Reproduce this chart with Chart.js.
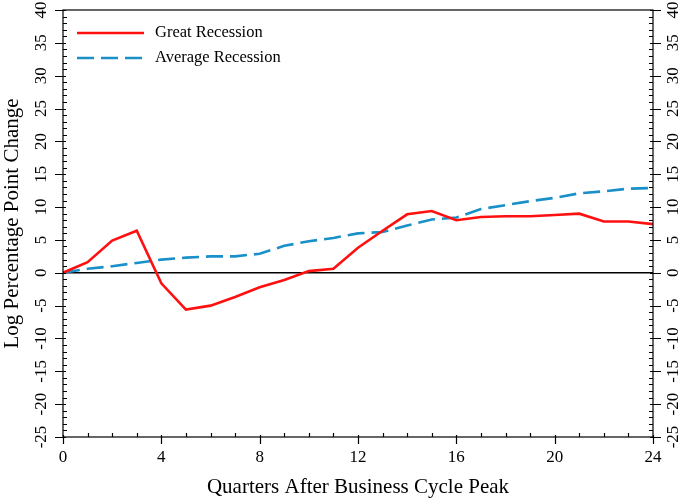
<!DOCTYPE html>
<html>
<head>
<meta charset="utf-8">
<script src="https://cdn.jsdelivr.net/npm/chart.js@4"></script>
<style>
  html, body { margin: 0; padding: 0; background: #fff; }
  #wrap { width: 685px; height: 499px; }
</style>
</head>
<body>
<div id="wrap"><canvas id="c" width="685" height="499"></canvas></div>
<script>
const quarters = [0,1,2,3,4,5,6,7,8,9,10,11,12,13,14,15,16,17,18,19,20,21,22,23,24];
const greatRecession = [0,1.6,4.9,6.4,-1.6,-5.6,-5.0,-3.7,-2.2,-1.1,0.25,0.6,3.8,6.4,8.9,9.4,8.0,8.5,8.6,8.6,8.8,9.0,7.8,7.8,7.4];
const averageRecession = [0,0.6,1.0,1.5,2.0,2.3,2.5,2.5,2.9,4.1,4.8,5.3,6.0,6.2,7.2,8.1,8.4,9.7,10.3,10.9,11.4,12.1,12.4,12.8,12.9];
const xTickLabels = ['0','4','8','12','16','20','24'];
const yTickLabels = ['-25','-20','-15','-10','-5','0','5','10','15','20','25','30','35','40'];
const seriesNames = ['Great Recession','Average Recession'];
const xTitle = 'Quarters After Business Cycle Peak';
const yTitle = 'Log Percentage Point Change';

const SERIF = '"Liberation Serif", "Times New Roman", serif';

const axesPlugin = {
  id: 'axesPlugin',
  beforeDatasetsDraw(chart) {
    const ctx = chart.ctx, a = chart.chartArea;
    const ys = chart.scales.y;
    ctx.save();
    ctx.strokeStyle = '#000';
    ctx.lineWidth = 1.6;
    ctx.beginPath();
    const y0 = ys.getPixelForValue(0);
    ctx.moveTo(a.left, y0); ctx.lineTo(a.right, y0);
    ctx.stroke();
    ctx.restore();
  },
  afterDatasetsDraw(chart) {
    const ctx = chart.ctx, a = chart.chartArea;
    const xs = chart.scales.x, ys = chart.scales.y;
    ctx.save();
    ctx.strokeStyle = '#000';
    ctx.lineWidth = 1.2;
    ctx.strokeRect(a.left, a.top, a.right - a.left, a.bottom - a.top);
    ctx.beginPath();
    for (let q = 0; q <= 24; q++) {
      const px = Math.round(xs.getPixelForValue(q)) + 0.5;
      if (q % 4 === 0) { ctx.moveTo(px, a.bottom + 7); ctx.lineTo(px, a.bottom - 2); }
      else { ctx.moveTo(px, a.bottom); ctx.lineTo(px, a.bottom - 4); }
    }
    for (let v = -25; v <= 40; v++) {
      const py = Math.round(ys.getPixelForValue(v)) + 0.5;
      if (v % 5 === 0) {
        ctx.moveTo(a.left - 8, py); ctx.lineTo(a.left + 3, py);
        ctx.moveTo(a.right + 8, py); ctx.lineTo(a.right - 3, py);
      } else {
        ctx.moveTo(a.left, py); ctx.lineTo(a.left + 4, py);
        ctx.moveTo(a.right, py); ctx.lineTo(a.right - 4, py);
      }
    }
    ctx.stroke();

    ctx.fillStyle = '#000';
    ctx.font = '17px ' + SERIF;
    ctx.textAlign = 'center';
    ctx.textBaseline = 'middle';
    xTickLabels.forEach(l => {
      ctx.fillText(l, xs.getPixelForValue(Number(l)), a.bottom + 21);
    });
    yTickLabels.forEach(l => {
      const py = ys.getPixelForValue(Number(l));
      ctx.save(); ctx.translate(42, py); ctx.rotate(-Math.PI/2); ctx.fillText(l, 0, 0); ctx.restore();
      ctx.save(); ctx.translate(674, py); ctx.rotate(-Math.PI/2); ctx.fillText(l, 0, 0); ctx.restore();
    });
    ctx.font = '21px ' + SERIF;
    ctx.fillText(xTitle, (a.left + a.right) / 2, 487);
    ctx.save(); ctx.translate(12, (a.top + a.bottom) / 2); ctx.rotate(-Math.PI/2); ctx.fillText(yTitle, 0, 0); ctx.restore();

    ctx.font = '16.5px ' + SERIF;
    ctx.textAlign = 'left';
    chart.data.datasets.forEach((ds, i) => {
      const ly = 33 + i * 25;
      ctx.save();
      ctx.strokeStyle = ds.borderColor;
      ctx.lineWidth = ds.borderWidth;
      ctx.setLineDash(ds.borderDash || []);
      ctx.beginPath(); ctx.moveTo(77, ly); ctx.lineTo(144, ly); ctx.stroke();
      ctx.restore();
      ctx.fillText(ds.label, 155, ly);
    });
    ctx.restore();
  }
};

new Chart(document.getElementById('c'), {
  type: 'line',
  data: {
    labels: quarters,
    datasets: [
      { label: seriesNames[0], data: quarters.map((q, i) => ({x: q, y: greatRecession[i]})),
        borderColor: '#ff1010', borderWidth: 2.6, pointRadius: 0, tension: 0, fill: false },
      { label: seriesNames[1], data: quarters.map((q, i) => ({x: q, y: averageRecession[i]})),
        borderColor: '#1a90c8', borderWidth: 2.6, borderDash: [17, 7], pointRadius: 0, tension: 0, fill: false }
    ]
  },
  options: {
    responsive: false,
    animation: false,
    layout: { padding: { left: 63, right: 32, top: 10, bottom: 62 } },
    plugins: { legend: { display: false }, tooltip: { enabled: false } },
    scales: {
      x: { type: 'linear', min: 0, max: 24, display: false },
      y: { type: 'linear', min: -25, max: 40, display: false }
    }
  },
  plugins: [axesPlugin]
});
</script>
</body>
</html>
